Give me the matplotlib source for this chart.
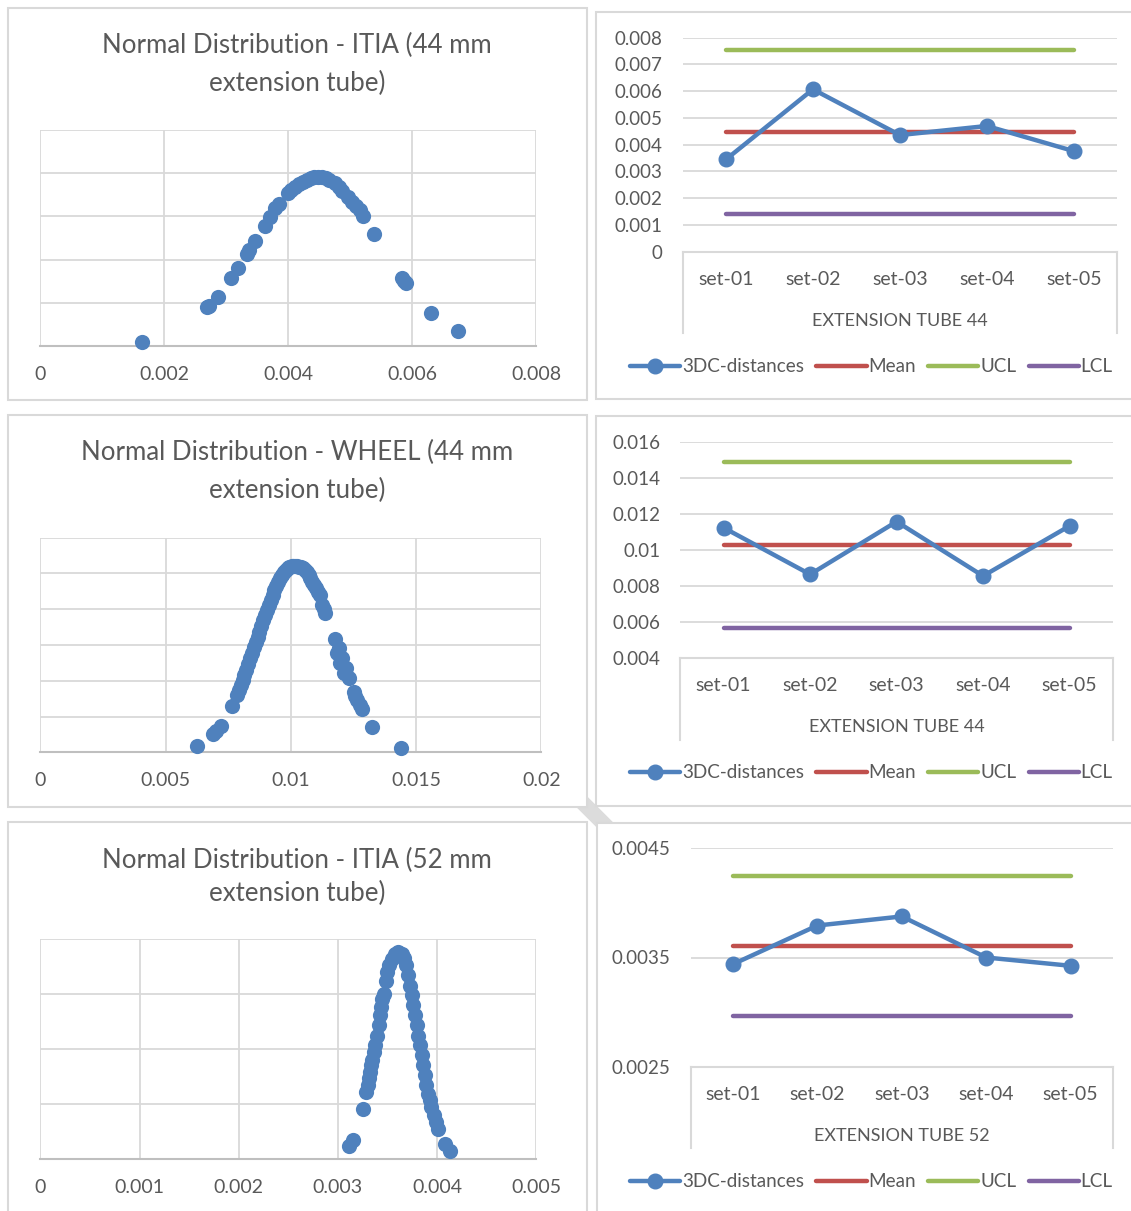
import numpy as np
import matplotlib
matplotlib.use('Agg')
import matplotlib.pyplot as plt
from matplotlib.patches import Rectangle
from matplotlib.lines import Line2D

plt.rcParams['font.family'] = ['Lato', 'DejaVu Sans']

# ---- data ----
# normal distribution panels: x values (x1e-3), y in grid units (no y labels)
itia44_x = [1.64, 2.69, 2.72, 2.86, 3.07, 3.19, 3.33, 3.37, 3.46, 3.62, 3.70, 3.79, 3.85,
            4.00, 4.05, 4.11, 4.18, 4.24, 4.30, 4.36, 4.42, 4.48, 4.54, 4.60, 4.66, 4.75,
            4.81, 4.87, 4.96, 5.02, 5.09, 5.15, 5.21, 5.39, 5.83, 5.87, 5.90, 6.30, 6.73]
itia44_y = [0.09, 0.89, 0.92, 1.14, 1.56, 1.81, 2.14, 2.21, 2.42, 2.79, 2.98, 3.19, 3.29,
            3.54, 3.61, 3.69, 3.75, 3.81, 3.85, 3.89, 3.91, 3.92, 3.91, 3.89, 3.85, 3.78,
            3.69, 3.59, 3.46, 3.34, 3.24, 3.15, 3.00, 2.59, 1.58, 1.50, 1.45, 0.77, 0.34]

wheel44_x = [6.25, 6.91, 7.03, 7.22, 7.67, 7.85, 7.93, 8.00, 8.08, 8.15, 8.23, 8.30, 8.38,
             8.45, 8.53, 8.60, 8.68, 8.75, 8.83, 8.90, 8.98, 9.05, 9.13, 9.20, 9.28, 9.35,
             9.43, 9.50, 9.58, 9.65, 9.73, 9.80, 9.88, 9.95, 10.03, 10.10, 10.18, 10.26,
             10.33, 10.41, 10.48, 10.56, 10.63, 10.71, 10.78, 10.86, 10.93, 11.00, 11.08,
             11.16, 11.23, 11.31, 11.38, 11.76, 11.83, 11.91, 11.98, 12.06, 12.13, 12.21,
             12.33, 12.51, 12.58, 12.66, 12.76, 12.84, 13.26, 14.40]
wheel44_y = [0.18, 0.50, 0.60, 0.74, 1.30, 1.60, 1.74, 1.88, 2.02, 2.16, 2.30, 2.47, 2.63,
             2.77, 2.94, 3.09, 3.23, 3.37, 3.53, 3.70, 3.84, 3.98, 4.12, 4.26, 4.40, 4.54,
             4.66, 4.77, 4.86, 4.96, 5.03, 5.10, 5.14, 5.18, 5.20, 5.21, 5.22, 5.21,
             5.19, 5.18, 5.14, 5.10, 5.03, 4.96, 4.86, 4.77, 4.68, 4.59, 4.49,
             4.40, 4.12, 4.00, 3.89, 3.16, 2.77, 2.91, 2.49, 2.63, 2.21, 2.35,
             2.07, 1.69, 1.57, 1.46, 1.32, 1.20, 0.72, 0.12]

itia52_x = [3.110, 3.153, 3.250, 3.287, 3.300, 3.310, 3.320, 3.333, 3.343, 3.360, 3.377,
            3.393, 3.410, 3.420, 3.433, 3.447, 3.460, 3.487, 3.500, 3.520, 3.543, 3.577,
            3.610, 3.643, 3.667, 3.687, 3.710, 3.727, 3.743, 3.760, 3.777, 3.793, 3.810,
            3.827, 3.843, 3.860, 3.877, 3.893, 3.910, 3.927, 3.943, 3.967, 3.987, 4.010,
            4.077, 4.133]
itia52_y = [0.24, 0.36, 0.92, 1.22, 1.35, 1.47, 1.59, 1.71, 1.80, 1.95, 2.07,
            2.25, 2.44, 2.62, 2.77, 2.92, 3.01, 3.25, 3.41, 3.53, 3.65, 3.74,
            3.77, 3.74, 3.66, 3.53, 3.35, 3.16, 2.98, 2.80, 2.62, 2.44, 2.25,
            2.07, 1.90, 1.72, 1.53, 1.35, 1.19, 1.07, 0.95, 0.80, 0.68, 0.56,
            0.28, 0.16]

ticks44 = ['0', '0.002', '0.004', '0.006', '0.008']
ticksw = ['0', '0.005', '0.01', '0.015', '0.02']
ticks52 = ['0', '0.001', '0.002', '0.003', '0.004', '0.005']

# control charts
sets = ['set-01', 'set-02', 'set-03', 'set-04', 'set-05']
itia44_d = [0.00345, 0.00607, 0.00436, 0.00470, 0.00376]
itia44_lim = [0.00446, 0.00754, 0.00141]          # mean, ucl, lcl
wheel44_d = [0.01122, 0.00863, 0.01156, 0.00854, 0.01132]
wheel44_lim = [0.01026, 0.01486, 0.00565]
itia52_d = [0.003439, 0.003793, 0.003876, 0.003500, 0.003424]
itia52_lim = [0.003607, 0.004250, 0.002967]

W, H = 1131, 1211
TXT = '#595959'
GRID = '#d9d9d9'
BLUE, RED, GREEN, PURPLE = '#4f81bd', '#c0504d', '#9bbb59', '#8064a2'

fig = plt.figure(figsize=(W / 100, H / 100), dpi=100)


def rect(l, t, r, b):
    return [l / W, 1 - b / H, (r - l) / W, (b - t) / H]


# faint watermark stroke showing in the gaps
fig.add_artist(Line2D([540 / W, 645 / W], [1 - 760 / H, 1 - 865 / H],
                      color='#dcdcdc', lw=11, zorder=-3))

for l, t, r, b in [(8, 8, 587, 400), (8, 415, 587, 807), (8, 822, 587, 1230),
                   (596, 12, 1145, 399), (596, 416, 1145, 806), (597, 823, 1145, 1230)]:
    fig.add_artist(Rectangle((l / W, 1 - b / H), (r - l) / W, (b - t) / H,
                             transform=fig.transFigure, facecolor='white',
                             edgecolor=GRID, lw=1.5, zorder=-2))


def dist_panel(box, xs, ys, ny, labels, step, titles):
    ax = fig.add_axes(rect(*box))
    ax.set_facecolor('none')
    xv = np.array(xs) * 1e-3
    ax.scatter(xv, ys, s=120, color=BLUE, linewidths=0, zorder=3, clip_on=False)
    ax.set_xlim(0, step * (len(labels) - 1))
    ax.set_ylim(0, ny)
    ax.set_xticks([step * i for i in range(len(labels))], labels)
    ax.set_yticks(range(ny + 1), [''] * (ny + 1))
    ax.grid(True, color=GRID, lw=1.3)
    ax.set_axisbelow(True)
    for s in ['top', 'right', 'left']:
        ax.spines[s].set_visible(False)
    ax.spines['bottom'].set_color('#bfbfbf')
    ax.spines['bottom'].set_linewidth(1.5)
    ax.tick_params(length=0)
    ax.tick_params(axis='x', pad=14.5, labelsize=14, labelcolor=TXT)
    for txt, y in titles:
        fig.text(297 / W, 1 - y / H, txt, ha='center', va='center',
                 fontsize=18.6, color=TXT)
    return ax


dist_panel((40.3, 130.3, 536.3, 345.7), itia44_x, itia44_y, 5, ticks44, 0.002,
           [('Normal Distribution - ITIA (44 mm', 45), ('extension tube)', 83)])
dist_panel((40.3, 537.7, 541.2, 752.3), wheel44_x, wheel44_y, 6, ticksw, 0.005,
           [('Normal Distribution - WHEEL (44 mm', 452), ('extension tube)', 490)])
dist_panel((40.3, 939.3, 536.3, 1159.3), itia52_x, itia52_y, 4, ticks52, 0.001,
           [('Normal Distribution - ITIA (52 mm', 860), ('extension tube)', 893)])


def control_panel(box, vals, lims, yticks, ylabels, tube, box_bottom, leg_y):
    l, t, r, b = box
    ax = fig.add_axes(rect(*box))
    ax.set_facecolor('none')
    x = np.arange(len(sets))
    mean, ucl, lcl = lims
    ax.plot(x, vals, color=BLUE, lw=3.2, marker='o', ms=10.5,
            solid_capstyle='round', label='3DC-distances', zorder=5, clip_on=False)
    ax.plot(x, [mean] * len(x), color=RED, lw=3.2, solid_capstyle='round',
            label='Mean', zorder=4)
    ax.plot(x, [ucl] * len(x), color=GREEN, lw=3.2, solid_capstyle='round',
            label='UCL', zorder=4)
    ax.plot(x, [lcl] * len(x), color=PURPLE, lw=3.2, solid_capstyle='round',
            label='LCL', zorder=4)
    ax.set_xlim(-0.5, len(sets) - 0.5)
    ax.set_ylim(yticks[0], yticks[-1])
    ax.set_yticks(yticks, ylabels)
    ax.set_xticks(x, sets)
    ax.yaxis.grid(True, color=GRID, lw=1.3)
    ax.set_axisbelow(True)
    for s in ['top', 'right', 'left']:
        ax.spines[s].set_visible(False)
    ax.spines['bottom'].set_color(GRID)
    ax.spines['bottom'].set_linewidth(1.5)
    ax.tick_params(length=0, labelcolor=TXT)
    ax.tick_params(axis='y', pad=14.5, labelsize=13.5)
    ax.tick_params(axis='x', pad=14, labelsize=14)
    # multi-level category box
    for xp in (l, r):
        fig.add_artist(Line2D([xp / W, xp / W], [1 - b / H, 1 - box_bottom / H],
                              color=GRID, lw=1.5))
    fig.text((l + r) / 2 / W, 1 - (b + 69) / H, tube, ha='center', va='center',
             fontsize=13, color=TXT)
    leg = ax.legend(loc='center', bbox_to_anchor=(871.5 / W, 1 - (leg_y + 1) / H),
                    bbox_transform=fig.transFigure, ncol=4, frameon=False,
                    fontsize=13.6, handlelength=2.65, handletextpad=0.1,
                    columnspacing=0.65, borderpad=0)
    for txt in leg.get_texts():
        txt.set_color(TXT)
    return ax


control_panel((682.5, 37.7, 1117.3, 251.7), itia44_d, itia44_lim,
              [i * 0.001 for i in range(9)],
              ['0', '0.001', '0.002', '0.003', '0.004', '0.005', '0.006', '0.007', '0.008'],
              'EXTENSION TUBE 44', 333, 365.7)
control_panel((680.4, 441.7, 1112.8, 657.7), wheel44_d, wheel44_lim,
              [0.004, 0.006, 0.008, 0.010, 0.012, 0.014, 0.016],
              ['0.004', '0.006', '0.008', '0.01', '0.012', '0.014', '0.016'],
              'EXTENSION TUBE 44', 740, 771.7)
control_panel((690.8, 848.3, 1112.8, 1066.7), itia52_d, itia52_lim,
              [0.0025, 0.0035, 0.0045], ['0.0025', '0.0035', '0.0045'],
              'EXTENSION TUBE 52', 1148, 1180.7)

fig.savefig('out.png', dpi=100)
